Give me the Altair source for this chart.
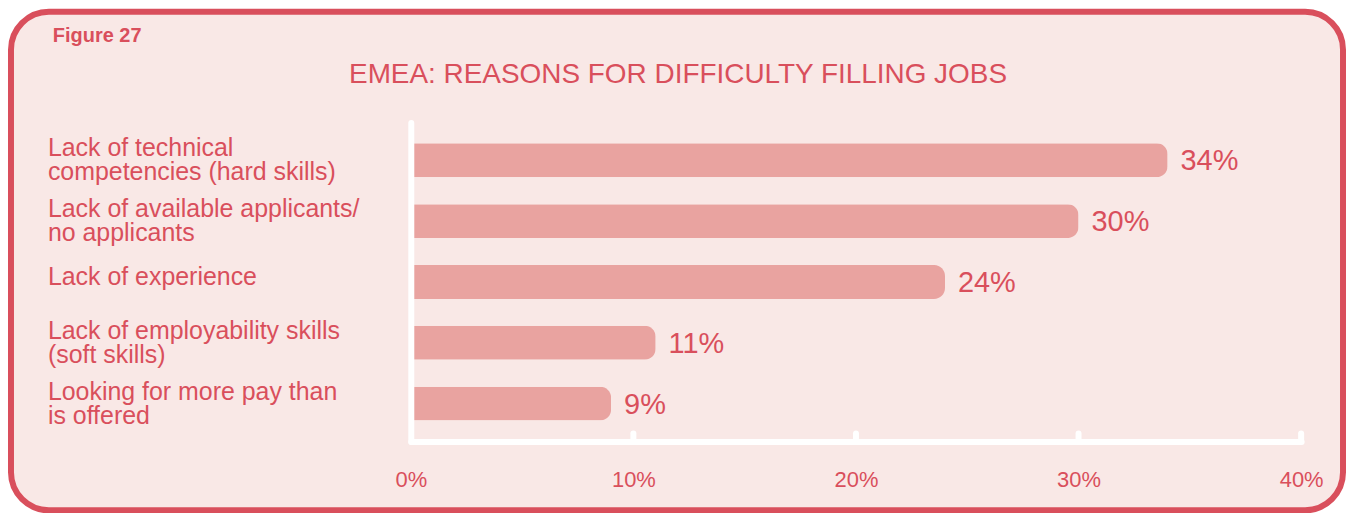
import altair as alt
import pandas as pd

categories = [
    "Lack of technical\ncompetencies (hard skills)",
    "Lack of available applicants/\nno applicants",
    "Lack of experience",
    "Lack of employability skills\n(soft skills)",
    "Looking for more pay than\nis offered",
]
values = [34, 30, 24, 11, 9]
value_labels = ["34%", "30%", "24%", "11%", "9%"]
axis_values = [0, 10, 20, 30, 40]
tick_marks = [10, 20, 30, 40]
figure_label = ["Figure 27"]
chart_title = ["EMEA: REASONS FOR DIFFICULTY FILLING JOBS"]

RED = "#d94f5c"
BAR = "#e9a3a0"
BG = "#f9e8e6"
FONT = "Liberation Sans"

df = pd.DataFrame({"reason": categories, "value": values, "label": value_labels})
ticks_df = pd.DataFrame({"value": tick_marks})

xscale = alt.Scale(domain=[0, 40], range=[401, 1294], nice=False)
yscale = alt.Scale(domain=categories, range=[111, 431], paddingInner=0.443, paddingOuter=0.344)

x_axis = alt.Axis(
    orient="bottom", offset=-69, values=axis_values,
    labelExpr="datum.value + '%'", labelFlush=False,
    ticks=True, tickSize=0, tickOpacity=0,
    labelPadding=38, labelBaseline="middle",
    labelFontSize=22, labelColor=RED, labelFont=FONT,
    domainColor="white", domainWidth=6, domainCap="round",
    grid=False, title=None, zindex=1,
)
y_axis = alt.Axis(
    orient="left", offset=-401, labels=False, ticks=False,
    domainColor="white", domainWidth=6, domainCap="round",
    grid=False, title=None, zindex=1,
)

X = alt.X("value:Q", scale=xscale, axis=x_axis)
Y = alt.Y("reason:N", scale=yscale, sort=categories, axis=y_axis)

base = alt.Chart(df)

bars = base.mark_bar(color=BAR, cornerRadiusEnd=11).encode(x=X, y=Y)

tick_rules = alt.Chart(ticks_df).mark_rule(color="white", strokeWidth=6, strokeCap="round").encode(
    x=X,
    y=alt.value(423),
    y2=alt.value(431),
)

value_text = base.mark_text(
    align="left", baseline="middle", dx=13, dy=1, fontSize=29, font=FONT, color=RED
).encode(x=X, y=Y, text="label:N")

cat_two = base.transform_filter(
    "indexof(datum.reason, '\\n') >= 0"
).mark_text(
    align="left", baseline="middle", dy=-12, fontSize=25, font=FONT, color=RED,
    lineBreak="\n", lineHeight=24,
).encode(x=alt.value(37), y=Y, text="reason:N")

cat_one = base.transform_filter(
    "indexof(datum.reason, '\\n') < 0"
).mark_text(
    align="left", baseline="middle", dy=-5, fontSize=25, font=FONT, color=RED,
).encode(x=alt.value(37), y=Y, text="reason:N")

title_text = alt.Chart(pd.DataFrame({"t": chart_title})).mark_text(
    align="center", baseline="alphabetic", fontSize=28, font=FONT, color=RED
).encode(x=alt.value(669), y=alt.value(71), text="t:N")

figure_text = alt.Chart(pd.DataFrame({"t": figure_label})).mark_text(
    align="left", baseline="alphabetic", fontSize=20, font=FONT, fontWeight="bold", color=RED
).encode(x=alt.value(42), y=alt.value(30), text="t:N")

chart = alt.layer(bars, tick_rules, value_text, cat_two, cat_one, title_text, figure_text).properties(
    width=1336,
    height=500,
    autosize=alt.AutoSizeParams(type="none"),
    padding={"left": 3, "top": 3, "right": 3, "bottom": 3},
    background="white",
).configure_view(
    fill=BG, stroke=RED, strokeWidth=6, cornerRadius=38
)

chart.save("out.html", embed_options={"renderer": "svg", "actions": False})
